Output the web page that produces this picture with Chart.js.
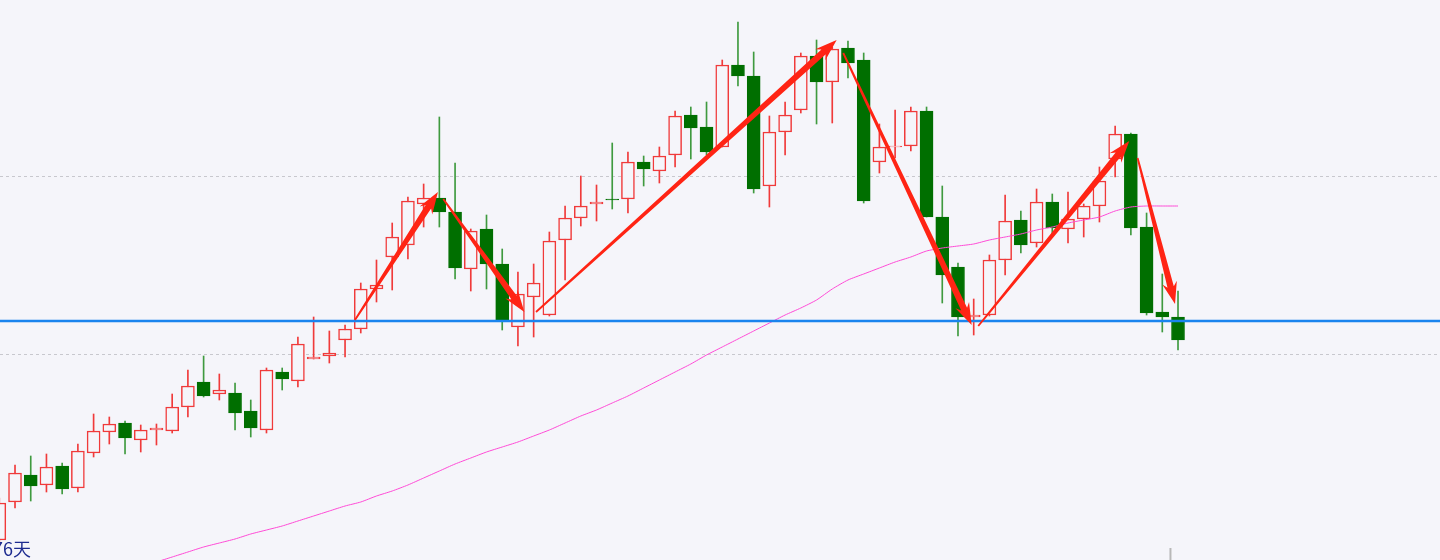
<!DOCTYPE html>
<html>
<head>
<meta charset="utf-8">
<script src="https://cdn.jsdelivr.net/npm/chart.js@4.4.0/dist/chart.umd.min.js"></script>
<style>
    html, body { margin: 0; padding: 0; background: #f5f5fa; }
    #contenedor { width: 1440px; height: 560px; position: relative; }
</style>
</head>
<body>
<div id="contenedor"><canvas id="velas"></canvas></div>
<script>
// precios (unidades arbitrarias, eje sin etiquetas)
var aperturas = [20, 58, 85, 75, 94, 72, 107, 128, 137, 120, 130, 129, 153, 178, 166, 167, 149, 130, 188, 179,
    201, 204, 220, 231, 271, 303, 315, 356, 362, 348, 291, 331, 296, 233, 263, 245, 320, 342, 356, 361,
    361, 398, 389, 405, 445, 433, 413, 495, 484, 374, 428, 450, 504, 478, 512, 500, 398, 413, 414, 449,
    343, 293, 243, 245, 300, 340, 317, 358, 331, 341, 354, 401, 426, 333, 248, 243];
var maximos = [62, 95, 104, 106, 97, 116, 146, 143, 139, 135, 136, 166, 190, 204, 186, 177, 160, 192, 192, 223,
    243, 229, 235, 277, 300, 337, 363, 376, 443, 397, 331, 345, 311, 288, 296, 328, 354, 384, 375, 417,
    408, 404, 413, 449, 453, 458, 500, 538, 508, 444, 458, 507, 520, 513, 519, 507, 436, 450, 453, 453,
    374, 297, 261, 305, 365, 349, 371, 366, 368, 356, 393, 434, 427, 347, 286, 269];
var minimos = [14, 52, 59, 68, 66, 68, 103, 116, 106, 108, 115, 127, 143, 163, 160, 130, 123, 127, 170, 173,
    201, 197, 203, 227, 258, 270, 301, 333, 333, 281, 269, 271, 230, 214, 223, 244, 280, 334, 339, 351,
    347, 374, 377, 393, 401, 405, 413, 474, 367, 353, 405, 447, 436, 437, 482, 357, 387, 402, 409, 343,
    257, 224, 225, 244, 285, 307, 313, 323, 317, 323, 338, 383, 325, 245, 228, 210];
var cierres = [57, 87, 74, 93, 71, 109, 129, 136, 122, 130, 132, 153, 174, 164, 170, 147, 132, 190, 181, 216,
    203, 207, 231, 271, 275, 323, 359, 362, 348, 292, 329, 296, 240, 266, 277, 319, 342, 354, 358, 360,
    398, 391, 404, 444, 432, 408, 495, 484, 371, 428, 445, 504, 478, 511, 497, 359, 413, 414, 449, 343,
    285, 243, 245, 300, 339, 315, 358, 332, 341, 354, 379, 426, 332, 247, 243, 220];

// media movil (empieza en la vela 10)
var mediaInicio = 10;
var media = [-2, 3, 8, 13, 17, 21, 26, 30, 34, 39, 44, 49, 54, 58, 64, 69, 75, 82, 89, 96,
    102, 108, 113, 118, 124, 130, 137, 144, 150, 157, 164, 172, 180, 188, 196, 205, 213, 221, 229, 237,
    245, 252, 260, 271, 280, 286, 292, 298, 303, 309, 312, 314, 316, 320, 323, 326, 330, 333, 337, 340,
    343, 349, 353, 354, 354, 354];

var soporte = 239;
var nivelesGrilla = [206, 384];
var marcaCursor = [{x: 74.52, y: 0}, {x: 74.52, y: 12}];

// flechas: [vela inicio, precio inicio, vela fin, precio fin]
var flechas = [
    [22.63, 240, 27.91, 368],
    [28.25, 361, 33.41, 248],
    [34.15, 248, 53.28, 520],
    [53.70, 507, 61.87, 235],
    [62.29, 234, 71.90, 419],
    [72.43, 402, 74.81, 256]
];
var etiquetaDias = '76天';

var fondo = '#f5f5fa';
var rojo = '#f03a3a';
var verde = '#006f00';
var verdeMecha = '#3f9a3f';

var dias = [];
for (var i = 0; i < aperturas.length; i++) {
    dias.push(i);
}

var sube = dias.map(function (i) { return cierres[i] >= aperturas[i]; });

function dibujarFlecha(ctx, x0, y0, x1, y1) {
    var dx = x1 - x0, dy = y1 - y0;
    var largo = Math.sqrt(dx * dx + dy * dy);
    var ux = dx / largo, uy = dy / largo;
    var nx = -uy, ny = ux;
    var cola = 1.8, cuello = 6.5, cabeza = 15, largoCabeza = 22;
    var bx = x1 - ux * largoCabeza, by = y1 - uy * largoCabeza;
    var cx = x1 - ux * largoCabeza * 0.8, cy = y1 - uy * largoCabeza * 0.8;

    ctx.beginPath();
    ctx.moveTo(x0 + nx * cola / 2, y0 + ny * cola / 2);
    ctx.lineTo(cx + nx * cuello / 2, cy + ny * cuello / 2);
    ctx.lineTo(bx + nx * cabeza / 2, by + ny * cabeza / 2);
    ctx.lineTo(x1, y1);
    ctx.lineTo(bx - nx * cabeza / 2, by - ny * cabeza / 2);
    ctx.lineTo(cx - nx * cuello / 2, cy - ny * cuello / 2);
    ctx.lineTo(x0 - nx * cola / 2, y0 - ny * cola / 2);
    ctx.closePath();
    ctx.fill();
}

var pluginFlechas = {
    id: 'flechas',
    afterDatasetsDraw: function (chart) {
        var ctx = chart.ctx;
        var ejeX = chart.scales.x;
        var ejeY = chart.scales.y;
        ctx.save();
        ctx.fillStyle = '#ff2414';
        flechas.forEach(function (f) {
            dibujarFlecha(ctx,
                ejeX.getPixelForValue(f[0]), ejeY.getPixelForValue(f[1]),
                ejeX.getPixelForValue(f[2]), ejeY.getPixelForValue(f[3]));
        });
        ctx.font = '18px "Noto Sans CJK SC", sans-serif';
        ctx.fillStyle = '#1d2b90';
        ctx.textBaseline = 'alphabetic';
        ctx.fillText(etiquetaDias, -7, 556);
        ctx.restore();
    }
};

var ctx = document.getElementById('velas');
new Chart(ctx, {
    type: 'bar',
    data: {
        datasets: [{
            type: 'line',
            label: 'Soporte',
            data: [{x: -1, y: soporte}, {x: 93, y: soporte}],
            borderColor: '#1a84ee',
            borderWidth: 2.5,
            pointRadius: 0,
            order: 0
        }, {
            type: 'line',
            label: 'Cursor',
            data: marcaCursor,
            borderColor: '#b8b8b8',
            borderWidth: 2,
            pointRadius: 0,
            order: 0
        }, {
            type: 'line',
            label: 'Media',
            data: media.map(function (v, k) { return {x: mediaInicio + k, y: v}; }),
            borderColor: '#ff4ad6',
            borderWidth: 1,
            pointRadius: 0,
            tension: 0.2,
            order: 1
        }, {
            label: 'Cuerpos',
            data: dias.map(function (i) { return {x: i, y: [aperturas[i], cierres[i]]}; }),
            backgroundColor: dias.map(function (i) { return sube[i] ? fondo : verde; }),
            borderColor: dias.map(function (i) { return sube[i] ? rojo : verde; }),
            borderWidth: dias.map(function (i) { return sube[i] ? 1.5 : 1; }),
            borderSkipped: false,
            barThickness: 13,
            grouped: false,
            order: 2
        }, {
            label: 'Mechas',
            data: dias.map(function (i) { return {x: i, y: [minimos[i], maximos[i]]}; }),
            backgroundColor: dias.map(function (i) { return sube[i] ? rojo : verdeMecha; }),
            borderWidth: 0,
            barThickness: 1,
            grouped: false,
            order: 3
        }]
    },
    options: {
        responsive: true,
        maintainAspectRatio: false,
        animation: false,
        events: [],
        layout: { padding: 0 },
        plugins: {
            legend: { display: false },
            tooltip: { enabled: false }
        },
        scales: {
            x: {
                type: 'linear',
                min: 0.0445,
                max: 91.67,
                offset: false,
                display: false
            },
            y: {
                min: 0,
                max: 560,
                afterBuildTicks: function (escala) {
                    escala.ticks = nivelesGrilla.map(function (v) { return {value: v}; });
                },
                ticks: { display: false },
                grid: { color: '#c8c8ce', lineWidth: 1, drawTicks: false },
                border: { display: false, dash: [3, 3] }
            }
        }
    },
    plugins: [pluginFlechas]
});
</script>
</body>
</html>
